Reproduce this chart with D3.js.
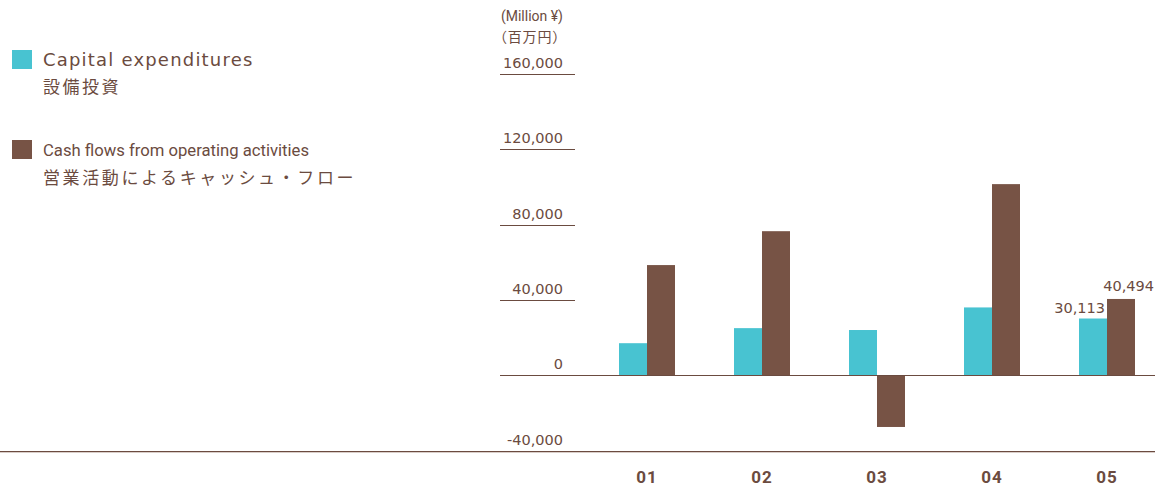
<!DOCTYPE html>
<html><head><meta charset="utf-8">
<script src="https://cdn.jsdelivr.net/npm/d3@7"></script>
<style>
html,body{margin:0;padding:0;background:#fff;}
svg{display:block;}
</style></head>
<body>
<svg id="chart" width="1155" height="486"></svg>
<script>
const categories = ["01","02","03","04","05"];
const capex = [17000, 25000, 24000, 36000, 30113];
const operatingCF = [58500, 76500, -27500, 101500, 40494];
const yTicks = [-40000, 0, 40000, 80000, 120000, 160000];
const seriesNames = ["Capital expenditures", "Cash flows from operating activities"];
const seriesNamesJa = ["設備投資", "営業活動によるキャッシュ・フロー"];
const colors = ["#48c3d1", "#775345"];
const textColor = "#6b4b40";

const svg = d3.select("#chart");
const y = d3.scaleLinear().domain([-40000, 160000]).range([450.5, 74]);
const x = d3.scalePoint().domain(categories).range([647, 1107]);
const sub = d3.scaleBand().domain([0,1]).range([-28, 28]);

const fmt0 = d3.format(",");
const fmt = v => fmt0(v).replace("\u2212", "-");
yTicks.forEach(t => {
  if (t !== 0 && t !== -40000) {
    svg.append("line").attr("x1",500).attr("x2",575)
      .attr("y1",Math.round(y(t))+0.5).attr("y2",Math.round(y(t))+0.5)
      .attr("stroke",textColor).attr("stroke-width",1);
  }
  svg.append("text").attr("x",563).attr("y",y(t)-6)
    .attr("text-anchor","end").attr("fill",textColor)
    .attr("font-family","'DejaVu Sans', sans-serif").attr("font-size",14.5)
    .text(fmt(t));
});

svg.append("text").attr("x",563).attr("y",21).attr("text-anchor","end")
  .attr("fill",textColor).attr("font-family","'Liberation Sans Narrow','Roboto',sans-serif")
  .attr("font-size",14).text("(Million ¥)");
svg.append("text").attr("x",567).attr("y",42).attr("text-anchor","end")
  .attr("fill",textColor).attr("font-family","'Noto Sans CJK JP',sans-serif")
  .attr("font-size",14).attr("letter-spacing",0.8).text("（百万円）");

// bars
const data = [];
categories.forEach((c,i) => {
  data.push({c, s:0, v:capex[i]});
  data.push({c, s:1, v:operatingCF[i]});
});
svg.append("g").selectAll("rect").data(data).join("rect")
  .attr("x", d => x(d.c) + sub(d.s))
  .attr("width", sub.bandwidth())
  .attr("y", d => Math.min(y(d.v), y(0)))
  .attr("height", d => Math.abs(y(d.v) - y(0)))
  .attr("fill", d => colors[d.s]);

// zero line
svg.append("line").attr("x1",500).attr("x2",1155)
  .attr("y1",Math.round(y(0))+0.5).attr("y2",Math.round(y(0))+0.5)
  .attr("stroke",textColor).attr("stroke-width",1);
// bottom line
svg.append("line").attr("x1",0).attr("x2",1155)
  .attr("y1",451.5).attr("y2",451.5)
  .attr("stroke",textColor).attr("stroke-width",1.2);
svg.append("line").attr("x1",0).attr("x2",1155)
  .attr("y1",452.5).attr("y2",452.5)
  .attr("stroke","#d9cdc8").attr("stroke-width",1);

// x labels
svg.append("g").selectAll("text").data(categories).join("text")
  .attr("x", d => x(d)).attr("y", 483)
  .attr("text-anchor","middle").attr("fill",textColor)
  .attr("font-family","Roboto, sans-serif").attr("font-weight","bold")
  .attr("font-size",17).attr("letter-spacing",1)
  .text(d => d);

// value labels for last category
const last = categories.length - 1;
svg.append("text").attr("x", x(categories[last]) + sub(0) + sub.bandwidth() - 2)
  .attr("y", y(capex[last]) - 6).attr("text-anchor","end")
  .attr("fill",textColor).attr("font-family","'DejaVu Sans', sans-serif")
  .attr("font-size",14.5).text(fmt(capex[last]));
svg.append("text").attr("x", 1154)
  .attr("y", y(operatingCF[last]) - 8).attr("text-anchor","end")
  .attr("fill",textColor).attr("font-family","'DejaVu Sans', sans-serif")
  .attr("font-size",14.5).text(fmt(operatingCF[last]));

// legend
const leg = svg.append("g");
const legY = [50, 140];
seriesNames.forEach((n,i) => {
  leg.append("rect").attr("x",12).attr("y",legY[i]).attr("width",20).attr("height",19)
    .attr("fill",colors[i]);
});
leg.append("text").attr("x",43).attr("y",66).attr("fill",textColor)
  .attr("font-family","'DejaVu Sans', sans-serif").attr("font-size",18)
  .attr("letter-spacing",1.2).text(seriesNames[0]);
leg.append("text").attr("x",43).attr("y",93).attr("fill",textColor)
  .attr("font-family","'Noto Sans CJK JP', sans-serif").attr("font-size",17)
  .attr("letter-spacing",2.5).text(seriesNamesJa[0]);
leg.append("text").attr("x",43).attr("y",156).attr("fill",textColor)
  .attr("font-family","Roboto, sans-serif").attr("font-size",16)
  .attr("textLength",266).attr("lengthAdjust","spacingAndGlyphs")
  .text(seriesNames[1]);
leg.append("text").attr("x",43).attr("y",184).attr("fill",textColor)
  .attr("font-family","'Noto Sans CJK JP', sans-serif").attr("font-size",17)
  .attr("letter-spacing",2.6).text(seriesNamesJa[1]);
</script>
</body></html>
